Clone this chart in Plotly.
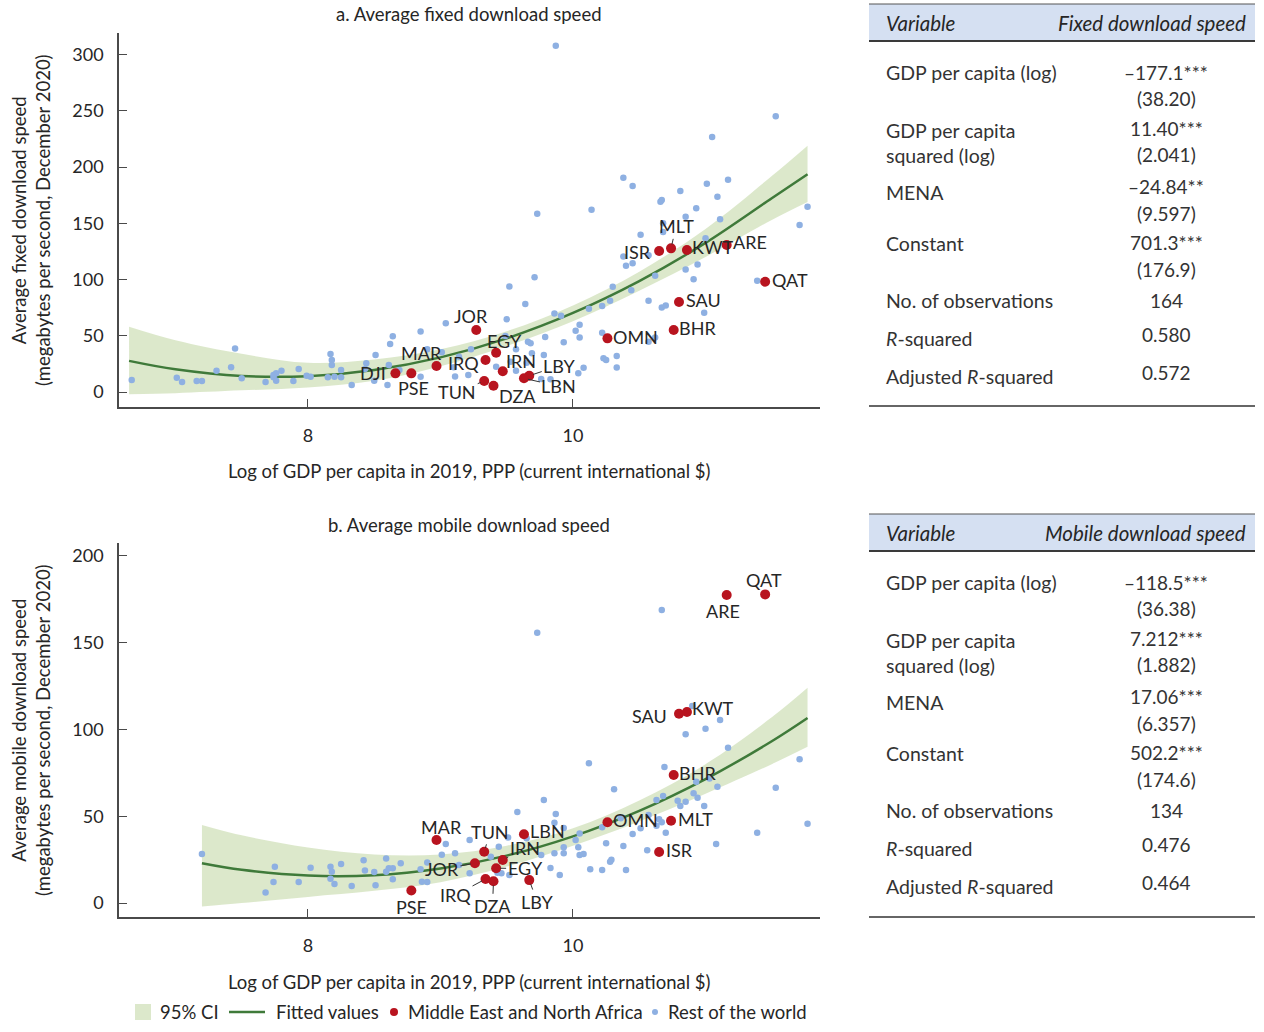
import plotly.graph_objects as go

# ---------------- data: panel a (fixed download speed) ----------------
FIXED_ROW_X = [6.67, 7.01, 7.05, 7.16, 7.20, 7.31, 7.42, 7.45, 7.50, 7.68, 7.74, 7.76, 7.76, 7.80, 7.74,
               7.89, 7.93, 7.99, 8.02, 8.15, 8.17, 8.18, 8.18, 8.20, 8.25, 8.25, 8.33, 8.44, 8.43, 8.51,
               8.62, 8.64, 8.61, 8.60, 8.50, 8.69, 8.85, 9.04, 8.90, 9.01, 9.14, 8.85, 9.11, 9.21, 9.10,
               9.23, 9.42, 9.53, 9.57, 9.57, 9.65, 9.69, 9.78, 9.76, 9.83, 10.04, 10.08, 10.23, 10.25, 10.33,
               10.33, 9.49, 9.66, 9.68, 9.79, 9.93, 10.05, 10.02, 10.05, 10.22, 10.57, 10.62, 9.50, 9.64, 9.52,
               9.71, 9.73, 9.87, 9.86, 9.91, 10.12, 10.22, 10.28, 10.14, 10.30, 10.44, 10.57, 10.67, 10.70, 10.99,
               10.62, 10.85, 10.91, 10.94, 10.38, 10.45, 10.40, 10.57, 10.51, 10.68, 10.68, 11.00, 10.38, 10.45, 10.81,
               11.01, 11.17, 10.66, 10.67, 11.09, 10.93, 10.85, 11.11, 11.05, 11.53, 11.77, 11.71, 11.39]
FIXED_ROW_Y = [10.7, 12.7, 8.9, 9.8, 9.8, 18.9, 22.0, 38.8, 12.2, 8.9, 13.1, 16.6, 10.0, 18.9, 15.1,
               9.8, 20.4, 14.5, 13.6, 13.1, 33.8, 28.4, 24.0, 13.6, 19.6, 13.1, 6.2, 25.5, 20.4, 32.9,
               42.7, 49.5, 24.0, 6.2, 10.0, 19.6, 53.8, 61.1, 38.0, 35.3, 31.4, 13.6, 13.9, 15.1, 22.0,
               38.0, 22.5, 26.9, 38.0, 18.9, 26.0, 34.4, 32.9, 11.6, 11.3, 16.6, 21.6, 30.0, 28.4, 32.0,
               21.8, 49.8, 44.7, 43.3, 48.9, 44.2, 48.4, 54.5, 59.7, 52.7, 44.7, 48.4, 64.6, 78.2, 93.8,
               102.0, 158.5, 307.8, 69.8, 67.7, 74.0, 76.4, 81.1, 162.0, 93.6, 90.4, 81.2, 75.1, 76.9, 70.5,
               103.4, 108.9, 100.3, 113.3, 120.4, 114.4, 112.2, 121.5, 139.8, 142.2, 150.0, 136.6, 190.5, 183.1, 178.7,
               185.2, 188.7, 169.2, 170.7, 173.6, 163.3, 155.8, 153.5, 226.7, 245.1, 164.7, 148.4, 98.9]

FIXED_MENA_CODE = ["DJI", "PSE", "MAR", "JOR", "IRQ", "EGY", "IRN", "TUN", "DZA", "LBY",
                   "LBN", "OMN", "SAU", "BHR", "ISR", "MLT", "KWT", "ARE", "QAT"]
FIXED_MENA_X = [8.66, 8.78, 8.97, 9.27, 9.34, 9.42, 9.47, 9.33, 9.40, 9.67,
                9.63, 10.26, 10.80, 10.76, 10.65, 10.74, 10.86, 11.16, 11.45]
FIXED_MENA_Y = [16.6, 16.6, 23.1, 55.1, 28.4, 34.9, 18.4, 9.8, 5.6, 14.5,
                12.2, 47.7, 80.0, 55.1, 125.3, 127.7, 126.2, 130.7, 98.0]

FIXED_FIT_X = [6.65, 7.0, 7.5, 8.0, 8.5, 9.0, 9.5, 10.0, 10.5, 11.0, 11.5, 11.77]
FIXED_FIT_Y = [27.7, 20.2, 14.3, 14.1, 19.6, 30.8, 47.7, 70.3, 98.6, 132.6, 172.3, 193.5]
FIXED_CI_UP = [58, 46, 34, 26, 29, 38, 54, 77, 107, 145, 192, 219]
FIXED_CI_LO = [-2, -1, 1.5, 4, 10, 23, 41, 63, 90, 120, 153, 169]

# ---------------- data: panel b (mobile download speed) ----------------
MOBILE_ROW_X = [7.20, 7.75, 7.74, 7.68, 7.93, 8.02, 8.17, 8.18, 8.17, 8.20, 8.25, 8.33, 8.42, 8.43, 8.50,
                8.51, 8.59, 8.59, 8.61, 8.64, 8.64, 8.70, 8.85, 8.90, 8.86, 8.90, 9.04, 9.01, 9.11, 9.22,
                9.14, 9.22, 9.38, 9.44, 9.43, 9.46, 9.52, 9.51, 9.65, 9.58, 9.78, 9.87, 9.86, 9.93, 9.76,
                9.86, 9.93, 9.93, 10.02, 10.05, 10.04, 10.05, 10.08, 9.83, 9.90, 10.13, 10.22, 10.28, 10.29, 10.40,
                10.38, 10.25, 10.22, 10.36, 10.45, 10.51, 10.57, 10.63, 10.70, 10.65, 10.67, 10.56, 10.12, 10.31, 10.68,
                10.63, 10.79, 10.85, 10.81, 10.91, 10.94, 10.99, 10.69, 11.03, 10.93, 11.09, 10.85, 11.00, 11.11, 10.90,
                11.17, 11.71, 11.53, 11.39, 11.77, 11.08, 10.67, 9.73]
MOBILE_ROW_Y = [28.2, 20.9, 12.1, 6.0, 12.1, 20.3, 20.9, 18.0, 14.0, 10.9, 22.5, 9.8, 24.6, 18.8, 17.9,
                10.2, 25.6, 18.0, 20.0, 20.0, 13.7, 22.9, 19.4, 23.4, 12.3, 12.1, 34.0, 27.8, 28.6, 36.3,
                21.9, 17.1, 26.7, 32.4, 17.5, 17.1, 16.1, 37.8, 37.3, 52.4, 59.3, 51.3, 46.3, 43.2, 27.6,
                28.6, 28.6, 32.1, 36.3, 40.1, 32.1, 27.6, 28.2, 20.2, 16.1, 19.4, 19.0, 23.8, 24.9, 19.0,
                32.8, 34.4, 43.6, 48.8, 39.7, 43.0, 50.7, 44.5, 40.5, 48.2, 46.5, 30.4, 80.5, 65.5, 61.6,
                59.3, 58.9, 58.3, 55.9, 63.2, 60.7, 55.9, 78.3, 71.8, 69.9, 67.0, 97.2, 100.4, 105.4, 113.5,
                89.5, 82.8, 66.4, 40.5, 45.7, 34.0, 168.8, 155.7]

MOBILE_MENA_CODE = ["MAR", "TUN", "JOR", "IRN", "EGY", "IRQ", "DZA", "LBY", "LBN", "PSE",
                    "OMN", "MLT", "ISR", "BHR", "SAU", "KWT", "ARE", "QAT"]
MOBILE_MENA_X = [8.97, 9.33, 9.26, 9.47, 9.42, 9.34, 9.40, 9.67, 9.63, 8.78,
                 10.26, 10.74, 10.65, 10.76, 10.80, 10.86, 11.16, 11.45]
MOBILE_MENA_Y = [36.3, 29.5, 22.9, 24.8, 20.0, 13.8, 12.5, 13.2, 39.6, 7.2,
                 46.5, 47.4, 29.4, 73.7, 109.0, 110.0, 177.4, 177.8]

MOBILE_FIT_X = [7.2, 7.5, 8.0, 8.5, 9.0, 9.5, 10.0, 10.5, 11.0, 11.5, 11.77]
MOBILE_FIT_Y = [22.9, 19.1, 15.8, 16.0, 19.9, 27.3, 38.4, 53.1, 71.4, 93.2, 106.6]
MOBILE_CI_UP = [45, 39, 32, 28, 28, 33, 43, 59, 80, 107, 124]
MOBILE_CI_LO = [-2, 0, 3.5, 7, 12, 21, 33, 47, 63, 80, 90]

X_TICKS = [8, 10]
FIXED_Y_TICKS = [0, 50, 100, 150, 200, 250, 300]
MOBILE_Y_TICKS = [0, 50, 100, 150, 200]

LEGEND_LABELS = ["95% CI", "Fitted values", "Middle East and North Africa", "Rest of the world"]

# regression tables
TABLE_LABELS = ["GDP per capita (log)", "GDP per capita<br>squared (log)", "MENA", "Constant",
                "No. of observations", "<i>R</i>-squared", "Adjusted <i>R</i>-squared"]
FIXED_COEF = ["\u2013177.1***", "11.40***", "\u201324.84**", "701.3***"]
FIXED_SE = ["(38.20)", "(2.041)", "(9.597)", "(176.9)"]
FIXED_STATS = ["164", "0.580", "0.572"]
MOBILE_COEF = ["\u2013118.5***", "7.212***", "17.06***", "502.2***"]
MOBILE_SE = ["(36.38)", "(1.882)", "(6.357)", "(174.6)"]
MOBILE_STATS = ["134", "0.476", "0.464"]

# ---------------- styling ----------------
W = 1264
H = 1024          # figure height (the page adds a few px below)
FONT = "Lato"
TXT = "#262626"
AX = "#4a4a4a"
BLUE = "#8eb0e2"
RED = "#b8141f"
GREEN = "#3f7a3a"
CI = "rgba(214,228,194,0.85)"


def pxx(x):
    return x / W


def pxy(y):
    return 1 - y / H


fig = go.Figure()


def add_panel(xa, ya, fx, fy, up, lo, rx, ry, mx, my):
    fig.add_trace(go.Scatter(x=fx, y=lo, mode="lines", line=dict(width=0, color=CI, shape="spline"),
                             xaxis=xa, yaxis=ya, showlegend=False, hoverinfo="skip"))
    fig.add_trace(go.Scatter(x=fx, y=up, mode="lines", line=dict(width=0, color=CI, shape="spline"),
                             fill="tonexty", fillcolor=CI, xaxis=xa, yaxis=ya, name=LEGEND_LABELS[0],
                             showlegend=False))
    fig.add_trace(go.Scatter(x=fx, y=fy, mode="lines", line=dict(width=2.5, color=GREEN, shape="spline"),
                             xaxis=xa, yaxis=ya, name=LEGEND_LABELS[1], showlegend=False))
    fig.add_trace(go.Scatter(x=rx, y=ry, mode="markers", marker=dict(size=6.5, color=BLUE),
                             xaxis=xa, yaxis=ya, name=LEGEND_LABELS[3], showlegend=False))
    fig.add_trace(go.Scatter(x=mx, y=my, mode="markers", marker=dict(size=10, color=RED),
                             xaxis=xa, yaxis=ya, name=LEGEND_LABELS[2], showlegend=False))


add_panel("x", "y", FIXED_FIT_X, FIXED_FIT_Y, FIXED_CI_UP, FIXED_CI_LO,
          FIXED_ROW_X, FIXED_ROW_Y, FIXED_MENA_X, FIXED_MENA_Y)
add_panel("x2", "y2", MOBILE_FIT_X, MOBILE_FIT_Y, MOBILE_CI_UP, MOBILE_CI_LO,
          MOBILE_ROW_X, MOBILE_ROW_Y, MOBILE_MENA_X, MOBILE_MENA_Y)

xdom = [pxx(119), pxx(820)]
axis_common = dict(showline=True, linecolor=AX, linewidth=1.5, ticks="inside", ticklen=8,
                   tickcolor=AX, tickwidth=1.2, showgrid=False, zeroline=False,
                   tickfont=dict(family=FONT, size=18, color=TXT))

fig.update_layout(
    width=W, height=H, margin=dict(l=0, r=0, t=0, b=0),
    paper_bgcolor="white", plot_bgcolor="white",
    font=dict(family=FONT, color=TXT),
    xaxis=dict(domain=xdom, range=[6.574, 11.864], tickvals=X_TICKS, anchor="y",
               ticklabelstandoff=12, **axis_common),
    yaxis=dict(domain=[pxy(407), pxy(33)], range=[-13.3, 319.1], tickvals=FIXED_Y_TICKS, anchor="x",
               ticklabelstandoff=10, **axis_common),
    xaxis2=dict(domain=xdom, range=[6.574, 11.864], tickvals=X_TICKS, anchor="y2",
                ticklabelstandoff=12, **axis_common),
    yaxis2=dict(domain=[pxy(917), pxy(543)], range=[-8.06, 207.4], tickvals=MOBILE_Y_TICKS, anchor="x2",
                ticklabelstandoff=10, **axis_common),
    showlegend=False,
)

ann = []
shapes = []


def text(x, y, s, size=18, xanchor="center", angle=0, color=TXT, align="center"):
    ann.append(dict(xref="paper", yref="paper", x=pxx(x), y=pxy(y), text=s, showarrow=False,
                    xanchor=xanchor, yanchor="middle", textangle=angle, align=align,
                    font=dict(family=FONT, size=size, color=color)))


text(469, 14, "a. Average fixed download speed", size=18.5)
text(469, 525, "b. Average mobile download speed", size=18.5)
text(469, 471, "Log of GDP per capita in 2019, PPP (current international $)", size=18.5)
text(469, 982, "Log of GDP per capita in 2019, PPP (current international $)", size=18.5)
text(31, 220, "Average fixed download speed<br>(megabytes per second, December 2020)", size=18.5, angle=-90)
text(31, 730, "Average mobile download speed<br>(megabytes per second, December 2020)", size=18.5, angle=-90)

# MENA labels: code -> (ax, ay, leader)
FIXED_LBL = {"DJI": (-22, 0, False), "PSE": (2, 15, False), "MAR": (-15, -13, False),
             "JOR": (-5, -14, False), "IRQ": (-22, 3, False), "EGY": (8, -12, False),
             "IRN": (18, -10, False), "TUN": (-27, 11, True), "DZA": (24, 10, True),
             "LBY": (30, -10, True), "LBN": (35, 8, True), "OMN": (28, -1, False),
             "SAU": (24, -2, False), "BHR": (24, -2, False), "ISR": (-22, 1, False),
             "MLT": (5, -22, True), "KWT": (26, -3, False), "ARE": (23, -3, False),
             "QAT": (25, -2, False)}
MOBILE_LBL = {"MAR": (5, -13, False), "TUN": (6, -20, True), "JOR": (-33, 6, True),
              "IRN": (22, -12, True), "EGY": (29, 0, True), "IRQ": (-30, 16, True),
              "DZA": (-1, 25, True), "LBY": (8, 22, True), "LBN": (24, -3, False),
              "PSE": (0, 16, False), "OMN": (28, -2, False), "MLT": (24, -2, False),
              "ISR": (20, -2, False), "BHR": (24, -2, False), "SAU": (-30, 2, False),
              "KWT": (26, -4, False), "ARE": (-4, 16, False), "QAT": (-1, -14, False)}


def labels(codes, xs, ys, spec, xr, yr):
    for c, x, y in zip(codes, xs, ys):
        ax, ay, lead = spec[c]
        ann.append(dict(xref=xr, yref=yr, x=x, y=y, text=c, showarrow=True, ax=ax, ay=ay,
                        axref="pixel", ayref="pixel", arrowhead=0, arrowwidth=1,
                        arrowcolor="#333" if lead else "rgba(0,0,0,0)", standoff=4,
                        font=dict(family=FONT, size=18, color=TXT)))


labels(FIXED_MENA_CODE, FIXED_MENA_X, FIXED_MENA_Y, FIXED_LBL, "x", "y")
labels(MOBILE_MENA_CODE, MOBILE_MENA_X, MOBILE_MENA_Y, MOBILE_LBL, "x2", "y2")


def pshape(**kw):
    d = dict(xref="paper", yref="paper")
    d.update(kw)
    shapes.append(d)


# custom legend row
LY = 1012
pshape(type="rect", x0=pxx(135), x1=pxx(151), y0=pxy(LY + 8), y1=pxy(LY - 8), fillcolor=CI, line=dict(width=0))
text(158, LY, LEGEND_LABELS[0], size=18.5, xanchor="left")
pshape(type="line", x0=pxx(229), x1=pxx(265), y0=pxy(LY), y1=pxy(LY), line=dict(color=GREEN, width=2.5))
text(274, LY, LEGEND_LABELS[1], size=18.5, xanchor="left")
pshape(type="circle", x0=pxx(390), x1=pxx(398), y0=pxy(LY + 4), y1=pxy(LY - 4), fillcolor=RED, line=dict(width=0))
text(406, LY, LEGEND_LABELS[2], size=18.5, xanchor="left")
pshape(type="circle", x0=pxx(652), x1=pxx(658), y0=pxy(LY + 3), y1=pxy(LY - 3), fillcolor=BLUE, line=dict(width=0))
text(666, LY, LEGEND_LABELS[3], size=18.5, xanchor="left")


def table(top, right_head, coef, se, stats, bottom):
    x0, x1 = 869, 1255
    pshape(type="rect", x0=pxx(x0), x1=pxx(x1), y0=pxy(top + 37), y1=pxy(top), fillcolor="#d5e0f2",
           line=dict(width=0), layer="below")
    pshape(type="line", x0=pxx(x0), x1=pxx(x1), y0=pxy(top), y1=pxy(top), line=dict(color="#555", width=1))
    pshape(type="line", x0=pxx(x0), x1=pxx(x1), y0=pxy(top + 37), y1=pxy(top + 37),
           line=dict(color="#3a3a3a", width=2))
    pshape(type="line", x0=pxx(x0), x1=pxx(x1), y0=pxy(bottom), y1=pxy(bottom), line=dict(color="#666", width=2))
    text(884, top + 19, "<i>Variable</i>", size=20.5, xanchor="left")
    ann.append(dict(xref="paper", yref="paper", x=pxx(1248), y=pxy(top + 19), text="<i>" + right_head + "</i>",
                    showarrow=False, xanchor="right", yanchor="middle",
                    font=dict(family=FONT, size=20.5, color=TXT)))
    lab_y = [68, 139, 188, 239, 296, 334, 372]
    coef_y = [68, 124, 182, 238]
    se_y = [94, 150, 209, 265]
    st_y = [296, 330, 368]
    for s, y in zip(TABLE_LABELS, lab_y):
        text(884, top + y, s, size=19.5, xanchor="left", color="#333", align="left")
    for s, y in zip(coef, coef_y):
        text(1166, top + y, s, size=19, color="#333")
    for s, y in zip(se, se_y):
        text(1166, top + y, s, size=19, color="#333")
    for s, y in zip(stats, st_y):
        text(1166, top + y, s, size=19, color="#333")


table(4, "Fixed download speed", FIXED_COEF, FIXED_SE, FIXED_STATS, 406)
table(514, "Mobile download speed", MOBILE_COEF, MOBILE_SE, MOBILE_STATS, 917)

fig.update_layout(annotations=ann, shapes=shapes)
fig.write_html("out.html")
